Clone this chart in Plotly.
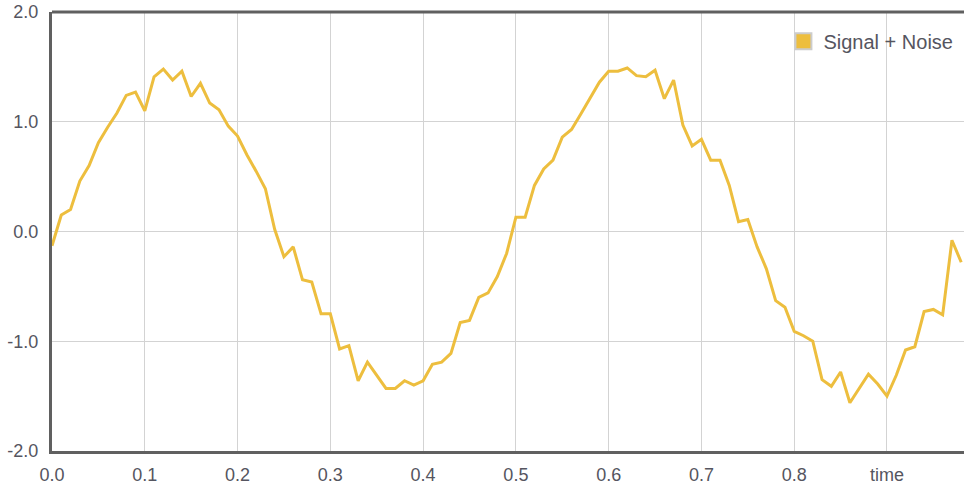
import plotly.graph_objects as go

time = [round(i * 0.01, 2) for i in range(99)]
signal_noise = [
    -0.13, 0.15, 0.20, 0.46, 0.60, 0.81, 0.95, 1.08, 1.24, 1.27,
    1.10, 1.41, 1.48, 1.38, 1.46, 1.23, 1.35, 1.17, 1.11, 0.96,
    0.87, 0.70, 0.55, 0.39, 0.02, -0.23, -0.14, -0.44, -0.46, -0.75,
    -0.75, -1.07, -1.04, -1.36, -1.19, -1.31, -1.43, -1.43, -1.36, -1.40,
    -1.36, -1.21, -1.19, -1.11, -0.83, -0.81, -0.60, -0.56, -0.41, -0.20,
    0.13, 0.13, 0.42, 0.57, 0.65, 0.86, 0.93, 1.07, 1.22, 1.36,
    1.46, 1.46, 1.49, 1.42, 1.41, 1.47, 1.21, 1.38, 0.97, 0.78,
    0.84, 0.65, 0.65, 0.42, 0.09, 0.11, -0.14, -0.34, -0.63, -0.69,
    -0.91, -0.95, -1.00, -1.35, -1.41, -1.28, -1.56, -1.43, -1.30, -1.39,
    -1.50, -1.31, -1.08, -1.05, -0.73, -0.71, -0.76, -0.08, -0.28,
]
series_name = "Signal + Noise"
x_tickvals = [0.0, 0.1, 0.2, 0.3, 0.4, 0.5, 0.6, 0.7, 0.8, 0.9]
x_ticktext = ["0.0", "0.1", "0.2", "0.3", "0.4", "0.5", "0.6", "0.7", "0.8", "time"]
y_tickvals = [-2.0, -1.0, 0.0, 1.0, 2.0]
y_ticktext = ["-2.0", "-1.0", "0.0", "1.0", "2.0"]

LINE_COLOR = "#EDBE3E"
FONT = "Arial, 'Liberation Sans', sans-serif"
TEXT_COLOR = "#555560"

fig = go.Figure()
fig.add_trace(go.Scatter(
    x=time, y=signal_noise, mode="lines",
    line=dict(color=LINE_COLOR, width=3),
    showlegend=False, name=series_name,
))
fig.add_trace(go.Scatter(
    x=[None], y=[None], mode="markers", name=series_name,
    marker=dict(symbol="square", size=16, color=LINE_COLOR,
                line=dict(color="#CCCCCC", width=2)),
    showlegend=True,
))

fig.update_layout(
    width=964, height=486,
    margin=dict(l=52, r=0, t=12, b=35),
    paper_bgcolor="white", plot_bgcolor="white",
    font=dict(family=FONT, size=18, color=TEXT_COLOR),
    legend=dict(
        x=0.802, y=0.978, xanchor="left", yanchor="top",
        bgcolor="rgba(0,0,0,0)", font=dict(size=20, color=TEXT_COLOR),
    ),
)
fig.update_xaxes(
    range=[0, 0.983], tickvals=x_tickvals, ticktext=x_ticktext,
    showgrid=True, gridcolor="#D3D3D3", gridwidth=1,
    showline=True, linecolor="#606060", linewidth=3, mirror=False,
    ticks="", ticklabelstandoff=5, zeroline=False,
)
fig.update_yaxes(
    range=[-2, 2], tickvals=y_tickvals, ticktext=y_ticktext,
    showgrid=True, gridcolor="#D3D3D3", gridwidth=1,
    showline=True, linecolor="#606060", linewidth=3,
    ticks="", ticklabelstandoff=7, zeroline=False,
)
# top border line
fig.add_shape(type="line", xref="paper", yref="paper", x0=0, x1=1, y0=1, y1=1,
              line=dict(color="#606060", width=3))

fig.write_html(
    "out.html",
    config={"displayModeBar": False},
    post_script="document.body.style.margin='0';document.body.style.overflow='hidden';",
)
